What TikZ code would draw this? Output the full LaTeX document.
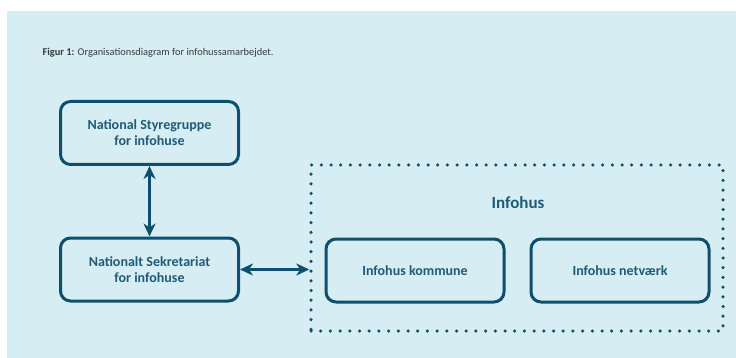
\documentclass[tikz,border=0pt]{standalone}
\usepackage{fontspec}
\setmainfont{Carlito}
\usetikzlibrary{positioning}
\usetikzlibrary{arrows.meta}

\definecolor{infobg}{HTML}{D7EDF4}
\definecolor{infolinje}{HTML}{0D4F6C}
\definecolor{infotekst}{HTML}{1F5B77}
\definecolor{titeltekst}{HTML}{3A3A3A}

\tikzset{
	enhed/.style = {draw = infolinje, line width = 3pt, rounded corners = 10pt,
		minimum width = 178pt, minimum height = 63pt, align = center,
		text = infotekst, font = \bfseries\fontsize{14}{16}\selectfont},
	pil/.style = {infolinje, line width = 3pt,
		{Stealth[length = 13pt, width = 12pt, inset = 4pt]}-{Stealth[length = 13pt, width = 12pt, inset = 4pt]}}
}

\begin{document}
\begin{tikzpicture}[x = 1pt, y = -1pt]
					\useasboundingbox (0, 0) rectangle (736, 358);
					\fill [infobg] (7, 11) rectangle (736, 358);
					\node at (39, 53) [anchor = west, text = titeltekst, font = \fontsize{10.4}{12}\selectfont] {\textbf{Figur 1:} Organisationsdiagram for infohussamarbejdet.};
					\node (styre) at (149.5, 133) [enhed] {National Styregruppe\\for infohuse};
					\node (sekretariat) at (149.5, 269.5) [enhed] {Nationalt Sekretariat\\for infohuse};
					\node (ramme) at (517, 248) [draw = infolinje, line width = 3.5pt, line cap = round, dash pattern = on 0pt off 9.7pt, minimum width = 412pt, minimum height = 166pt] {};
					\node (infohus) at (518, 203) [text = infotekst, font = \bfseries\fontsize{17}{20}\selectfont] {Infohus};
					\node (kommune) at (415, 270.5) [enhed] {Infohus kommune};
					\node (netvaerk) at (620, 270.5) [enhed] {Infohus netværk};
					\draw [pil] (styre) -- (sekretariat);
					\draw [pil] (sekretariat.east) -- (sekretariat.east -| ramme.west);
				\end{tikzpicture}
\end{document}
